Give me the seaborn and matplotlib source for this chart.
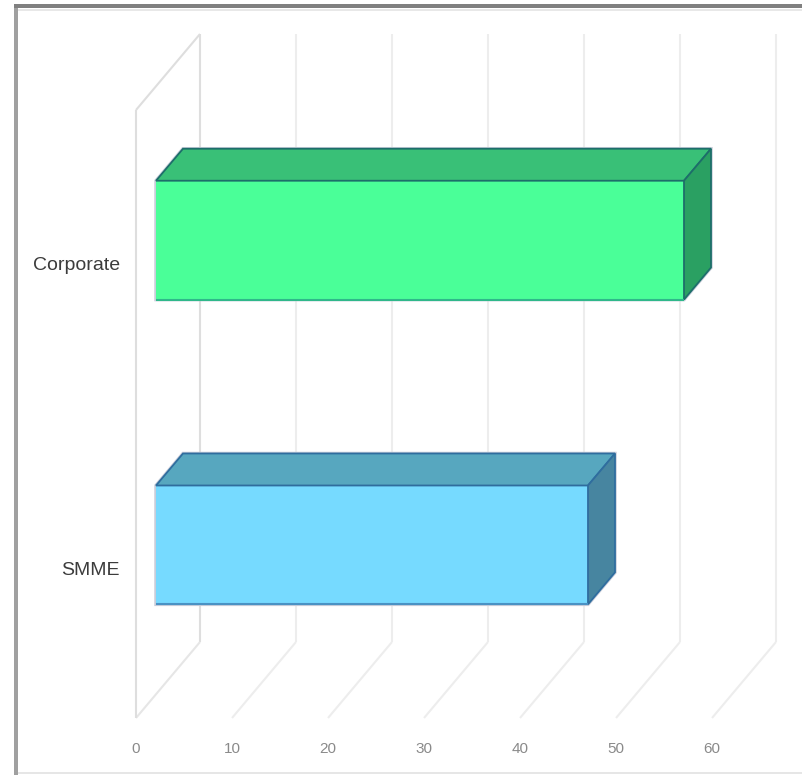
import numpy as np
import pandas as pd
import matplotlib
matplotlib.use("Agg")
import matplotlib.pyplot as plt
import seaborn as sns
from matplotlib.patches import Polygon
from matplotlib.lines import Line2D
from matplotlib.transforms import ScaledTranslation, IdentityTransform

# --- data -------------------------------------------------------------
categories = ["Corporate", "SMME"]
values = [55, 45]
tick_values = [0, 10, 20, 30, 40, 50, 60]
tick_labels = ["0", "10", "20", "30", "40", "50", "60"]

# --- colours per bar: front, top, side, edge, lower edge ---------------
front_colors = ["#4aff98", "#76daff"]
top_colors = ["#39c077", "#57a7bf"]
side_colors = ["#2aa062", "#4785a0"]
edge_colors = ["#1d6e6a", "#2f6d9e"]
lower_edge_colors = ["#2fb88a", "#4a92c4"]

sns.set_theme(style="white")
plt.rcParams["font.family"] = ["Liberation Sans", "DejaVu Sans"]

DPI = 100
W, H = 802, 775
fig = plt.figure(figsize=(W / DPI, H / DPI), dpi=DPI)
fig.patch.set_facecolor("white")

# front plane of the 3-D box (pixels)
left_px, right_px, top_px, bot_px = 136, 712, 110, 718
ax = fig.add_axes([left_px / W, (H - bot_px) / H,
                   (right_px - left_px) / W, (bot_px - top_px) / H])

df = pd.DataFrame({"segment": categories, "value": values})
sns.barplot(data=df, x="value", y="segment", hue="segment",
            palette=front_colors, width=0.39, orient="h",
            legend=False, ax=ax, zorder=5, linewidth=0)

ax.set_xlim(0, 60)
y_top, y_bot = -0.505, 1.49
ax.set_ylim(y_bot, y_top)
ax.set_xlabel("")
ax.set_ylabel("")
for s in ax.spines.values():
    s.set_visible(False)
ax.grid(False)
ax.set_facecolor("none")

ax.set_xticks(tick_values, tick_labels)
ax.tick_params(axis="x", length=0, pad=17, labelsize=11, labelcolor="#8a8a8a")
ax.tick_params(axis="y", length=0, pad=11.5, labelsize=14, labelcolor="#3c3c3c")

# depth vectors in pixels (display coords, y up)
WALL = np.array([64.0, 76.0])        # full depth of the box
BAR_FRONT = np.array([20.0, 23.75])  # bars sit a little behind the front plane
BAR_DEPTH = np.array([27.0, 32.0])   # thickness of each bar

ident = IdentityTransform()


def disp(x, y):
    return ax.transData.transform((x, y))


def add_line(p, q, color, lw=1.5, z=1):
    ax.add_line(Line2D([p[0], q[0]], [p[1], q[1]], color=color, lw=lw,
                       transform=ident, clip_on=False, zorder=z,
                       solid_capstyle="butt"))


# --- walls and floor grid ----------------------------------------------
for v in tick_values:
    top_front = disp(v, y_top)
    bot_front = disp(v, y_bot)
    col = "#dedede" if v == 0 else "#ededed"
    add_line(top_front + WALL, bot_front + WALL, col)
    add_line(bot_front, bot_front + WALL, "#e6e6e6" if v == 0 else "#ededed")

# left wall front edge and its top diagonal
add_line(disp(0, y_top), disp(0, y_bot), "#dedede")
add_line(disp(0, y_top), disp(0, y_top) + WALL, "#dedede")

# --- bars as boxes ---------------------------------------------------
shift = ScaledTranslation(BAR_FRONT[0] / DPI, BAR_FRONT[1] / DPI,
                          fig.dpi_scale_trans)
bars = [p for p in ax.patches]
for i, p in enumerate(bars):
    x0, w = p.get_x(), p.get_width()
    yc0, h = p.get_y(), p.get_height()
    a = disp(x0, yc0)
    b = disp(x0 + w, yc0 + h)
    xl, xr = min(a[0], b[0]), max(a[0], b[0])
    yb, yt = min(a[1], b[1]), max(a[1], b[1])
    BL = np.array([xl, yb]) + BAR_FRONT
    TL = np.array([xl, yt]) + BAR_FRONT
    TR = np.array([xr, yt]) + BAR_FRONT
    BR = np.array([xr, yb]) + BAR_FRONT

    p.set_transform(ax.transData + shift)
    p.set_facecolor(front_colors[i])
    p.set_edgecolor("none")
    p.set_clip_on(False)
    p.set_zorder(5)

    halo = Polygon([BL, TL, TL + BAR_DEPTH, TR + BAR_DEPTH,
                    BR + BAR_DEPTH, BR], closed=True, transform=ident,
                   facecolor="#c9cdda", edgecolor="#c9cdda", lw=2.5,
                   clip_on=False, zorder=4)
    ax.add_patch(halo)

    top = Polygon([TL, TR, TR + BAR_DEPTH, TL + BAR_DEPTH], closed=True,
                  transform=ident, facecolor=top_colors[i],
                  edgecolor=edge_colors[i], lw=1.3, clip_on=False,
                  joinstyle="miter", zorder=6)
    side = Polygon([TR, BR, BR + BAR_DEPTH, TR + BAR_DEPTH], closed=True,
                   transform=ident, facecolor=side_colors[i],
                   edgecolor=edge_colors[i], lw=1.3, clip_on=False,
                   joinstyle="miter", zorder=6)
    ax.add_patch(top)
    ax.add_patch(side)
    add_line(BL, BR, lower_edge_colors[i], lw=1.5, z=6)

# --- outer frame ------------------------------------------------------
def fig_line(x0, y0, x1, y1, color, lw_px):
    fig.add_artist(Line2D([x0 / W, x1 / W], [1 - y0 / H, 1 - y1 / H],
                          transform=fig.transFigure, color=color,
                          lw=lw_px * 72 / DPI, solid_capstyle="butt"))


fig_line(14, 9.5, W, 9.5, "#e8e8e8", 2)
fig_line(14, 773, W, 773, "#e6e6e6", 2)
fig_line(16, 4, 16, H, "#a0a0a0", 4)
fig_line(14, 6, W, 6, "#808080", 4)

fig.savefig("out.png", dpi=DPI)
